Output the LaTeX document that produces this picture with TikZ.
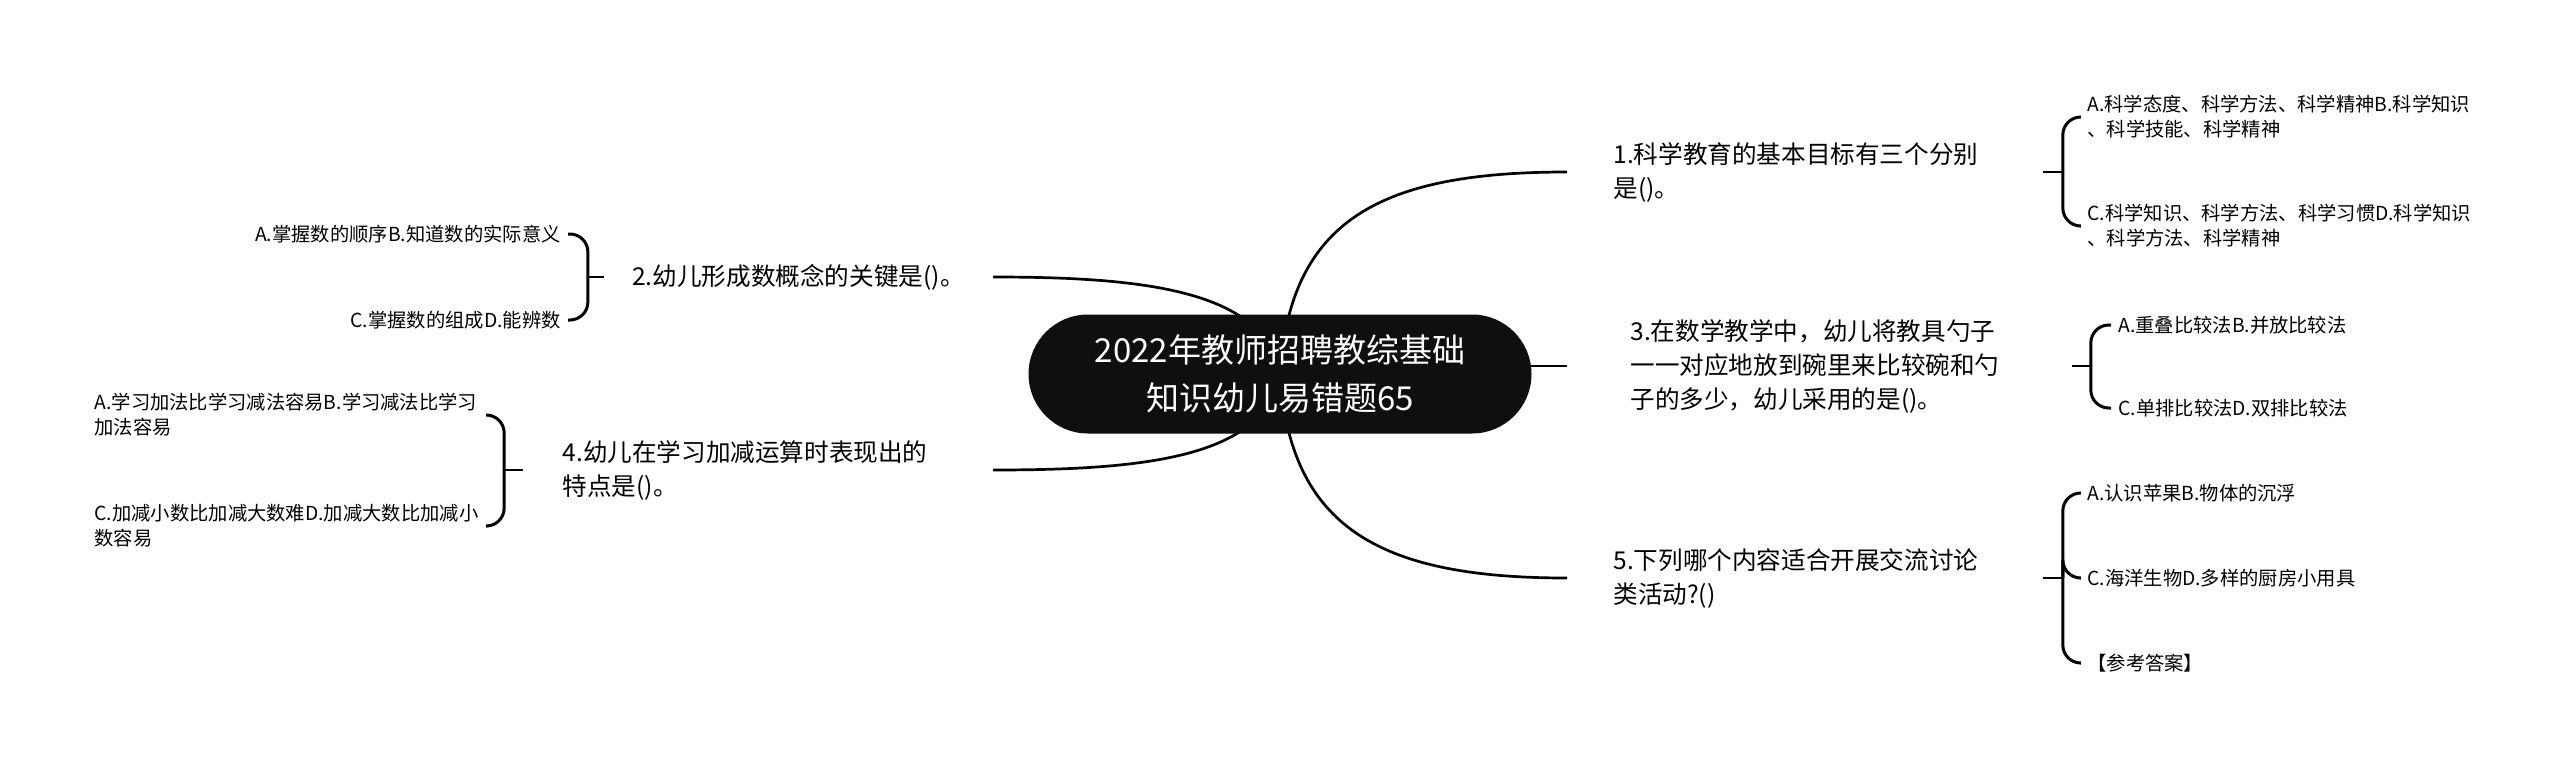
\documentclass[tikz,border=0pt]{standalone}
\usepackage{fontspec}
\setmainfont{Noto Sans CJK SC}
\usetikzlibrary{backgrounds}

\begin{document}
\begin{tikzpicture}[x=0.5pt, y=-0.5pt,
  root/.style={fill=black!94, text=white, rounded corners=29.75pt, minimum width=251.5pt,
    minimum height=59.5pt, inner sep=0pt, align=center, font=\fontsize{16.5}{24}\selectfont},
  qr/.style={anchor=west, inner xsep=23pt, inner ysep=0pt, text width=191.5pt, align=left,
    font=\fontsize{12.3}{17}\selectfont},
  ql/.style={qr, anchor=east},
  opt/.style={inner xsep=3.5pt, inner ysep=0pt, font=\fontsize{9.65}{12.5}\selectfont},
  optr/.style={opt, anchor=west, align=left},
  optl/.style={opt, anchor=east, align=right},
  link/.style={draw, line width=1.35pt},
  brk/.style={line width=1.5pt, rounded corners=9pt}]
\useasboundingbox (0,0) rectangle (2560,766);
\node[root] (root) at (1280,374) {2022年教师招聘教综基础\\知识幼儿易错题65};
\node[qr] (q1) at (1567,172) {1.科学教育的基本目标有三个分别\\是()。};
\node[qr, inner xsep=31.5pt, text width=189pt] (q3) at (1567,366)
  {3.在数学教学中，幼儿将教具勺子\\一一对应地放到碗里来比较碗和勺\\子的多少，幼儿采用的是()。};
\node[qr] (q5) at (1567,578) {5.下列哪个内容适合开展交流讨论\\类活动?()};
\node[ql, inner xsep=14pt, text width=] (q2) at (993,277) {2.幼儿形成数概念的关键是()。};
\node[ql, inner xsep=19.5pt, text width=195.5pt] (q4) at (993,470)
  {4.幼儿在学习加减运算时表现出的\\特点是()。};
\begin{scope}[on background layer]
\path[link] (root.center) .. controls +(10,-154) and +(-187,0) .. (q1.west);
\path[link] (q3.west -| root.center) -- (q3.west);
\path[link] (root.center) .. controls +(10,154) and +(-187,0) .. (q5.west);
\path[link] (root.center) .. controls +(-15,-84) and +(150,0) .. (q2.east);
\path[link] (root.center) .. controls +(-15,84) and +(150,0) .. (q4.east);
\end{scope}
\node[optr] (o1a) at (2080,117) {A.科学态度、科学方法、科学精神B.科学知识\\、科学技能、科学精神};
\node[optr] (o1b) at (2080,226) {C.科学知识、科学方法、科学习惯D.科学知识\\、科学方法、科学精神};
\node[optr] (o3a) at (2111,325) {A.重叠比较法B.并放比较法};
\node[optr] (o3b) at (2111,408) {C.单排比较法D.双排比较法};
\node[optr] (o5a) at (2080,493) {A.认识苹果B.物体的沉浮};
\node[optr] (o5b) at (2080,578) {C.海洋生物D.多样的厨房小用具};
\node[optr] (o5c) at (2080,663) {【参考答案】};
\node[optl] (o2a) at (568,234) {A.掌握数的顺序B.知道数的实际意义};
\node[optl] (o2b) at (568,320) {C.掌握数的组成D.能辨数};
\node[optl, align=left, text width=192.5pt] (o4a) at (487,415)
  {A.学习加法比学习减法容易B.学习减法比学习\\加法容易};
\node[optl, align=left, text width=192.5pt] (o4b) at (487,526)
  {C.加减小数比加减大数难D.加减大数比加减小\\数容易};
\draw[link] (q1.east) -- ++(20,0) coordinate (k1);
\draw[link] (q3.east) -- ++(19,0) coordinate (k3);
\draw[link] (q5.east) -- ++(20,0) coordinate (k5);
\draw[link] (q2.west) -- ++(-16,0) coordinate (k2);
\draw[link] (q4.west) -- ++(-19,0) coordinate (k4);
\foreach \k/\o in {k1/o1a, k1/o1b, k3/o3a, k3/o3b, k5/o5a, k5/o5b, k5/o5c}
  \draw[brk] (\k) |- (\o.west);
\foreach \k/\o in {k2/o2a, k2/o2b, k4/o4a, k4/o4b}
  \draw[brk] (\k) |- (\o.east);
\end{tikzpicture}
\end{document}
